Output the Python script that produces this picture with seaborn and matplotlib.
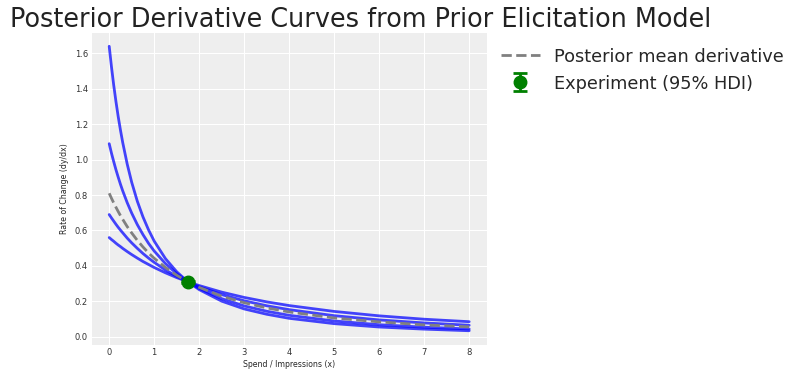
import numpy as np
import pandas as pd
import matplotlib
matplotlib.use("Agg")
import matplotlib.pyplot as plt
import seaborn as sns

# x grid (spend / impressions)
x_vals = [0, 0.05, 0.1, 0.15, 0.2, 0.25, 0.3, 0.4, 0.5, 0.625, 0.75, 0.875, 1,
          1.25, 1.5, 1.75, 2, 2.5, 3, 3.5, 4, 5, 6, 7, 8]

draw_1 = [1.640, 1.525, 1.421, 1.328, 1.243, 1.167, 1.097, 0.975, 0.872, 0.765, 0.677, 0.603, 0.540,
          0.441, 0.367, 0.310, 0.266, 0.201, 0.157, 0.127, 0.104, 0.074, 0.055, 0.043, 0.034]
draw_2 = [1.090, 1.037, 0.989, 0.943, 0.901, 0.861, 0.824, 0.757, 0.698, 0.633, 0.577, 0.527, 0.484,
          0.413, 0.356, 0.310, 0.273, 0.215, 0.174, 0.144, 0.121, 0.089, 0.068, 0.054, 0.044]
draw_3 = [0.690, 0.671, 0.653, 0.635, 0.618, 0.602, 0.587, 0.557, 0.530, 0.499, 0.470, 0.444, 0.420,
          0.377, 0.341, 0.310, 0.282, 0.238, 0.203, 0.175, 0.153, 0.119, 0.095, 0.078, 0.065]
draw_4 = [0.560, 0.549, 0.539, 0.528, 0.518, 0.509, 0.499, 0.481, 0.464, 0.444, 0.425, 0.408, 0.391,
          0.361, 0.334, 0.310, 0.289, 0.252, 0.222, 0.197, 0.176, 0.143, 0.118, 0.099, 0.085]

# posterior mean derivative
mean_curve = [0.810, 0.782, 0.756, 0.731, 0.707, 0.684, 0.663, 0.622, 0.586, 0.544, 0.507, 0.473, 0.443,
              0.391, 0.347, 0.310, 0.279, 0.229, 0.192, 0.163, 0.140, 0.106, 0.084, 0.067, 0.056]

# experiment point with 95% HDI
exp_x = [1.74]
exp_y = [0.309]
exp_lo = [0.303]
exp_hi = [0.315]

draws = {"draw_1": draw_1, "draw_2": draw_2, "draw_3": draw_3, "draw_4": draw_4}
df = pd.concat(
    [pd.DataFrame({"x": x_vals, "y": v, "draw": k}) for k, v in draws.items()],
    ignore_index=True,
)
mean_df = pd.DataFrame({"x": x_vals, "y": mean_curve})

sns.set_style("darkgrid", {"axes.facecolor": "#eeeeee", "grid.color": "white"})

fig = plt.figure(figsize=(8, 3.77), dpi=100)
ax = fig.add_axes([0.114, 0.085, 0.495, 0.83])

sns.lineplot(data=df, x="x", y="y", units="draw", estimator=None,
             color="blue", alpha=0.72, linewidth=2, ax=ax, legend=False)
sns.lineplot(data=mean_df, x="x", y="y", color="gray", linewidth=2,
             linestyle="--", ax=ax, label="Posterior mean derivative")

yerr = [[exp_y[0] - exp_lo[0]], [exp_hi[0] - exp_y[0]]]
ax.errorbar(exp_x, exp_y, yerr=yerr, fmt="o", color="green", markersize=9,
            capsize=5, capthick=2, elinewidth=2, zorder=5,
            label="Experiment (95% HDI)")

ax.set_xlabel("Spend / Impressions (x)", fontsize=5.6, labelpad=2)
ax.set_ylabel("Rate of Change (dy/dx)", fontsize=5.6, labelpad=4)
ax.tick_params(labelsize=6, colors="#333333", pad=2.4, length=0)
ax.set_xticks(range(0, 9))

fig.text(0.012, 0.982, "Posterior Derivative Curves from Prior Elicitation Model",
         fontsize=18.4, va="top", ha="left", color="#222222")

ax.legend(loc="upper left", bbox_to_anchor=(1.003, 0.99), frameon=False,
          fontsize=12.8, handlelength=2.2, borderaxespad=0.3, labelspacing=0.5)

fig.savefig("out.png", dpi=100)
